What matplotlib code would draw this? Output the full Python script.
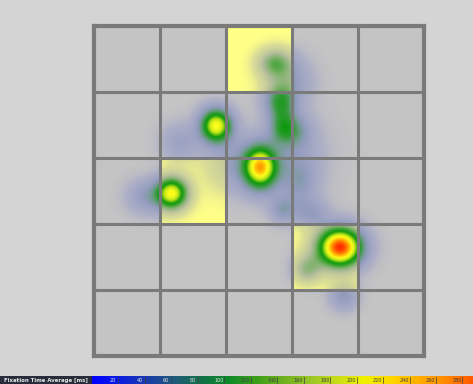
import numpy as np
import matplotlib.pyplot as plt
from matplotlib.colors import LinearSegmentedColormap, ListedColormap

# AOI grid (5x5), cells that are highlighted
n_cells = 5
aoi_rows = [0, 2, 3]
aoi_cols = [2, 1, 3]

# Fixations in grid units (x, y from top-left), average fixation time (ms), spread
fix_x = [3.73, 2.52, 1.85, 1.18, 2.82, 2.74, 2.86, 3.05, 2.86, 3.30, 3.79, 3.12, 0.78, 1.30, 3.23, 2.10, 2.95, 3.00]
fix_y = [3.37, 2.16, 1.52, 2.55, 1.17, 0.57, 1.55, 1.60, 2.80, 2.85, 4.11, 2.39, 2.60, 1.78, 3.70, 2.10, 0.85, 2.00]
fix_ms = [290, 222, 212, 212, 100, 88, 80, 55, 60, 50, 60, 45, 55, 45, 75, 45, 55, 40]
fix_sx = [0.24, 0.18, 0.17, 0.17, 0.16, 0.18, 0.14, 0.18, 0.14, 0.18, 0.15, 0.18, 0.2, 0.2, 0.15, 0.3, 0.25, 0.35]
fix_sy = [0.21, 0.23, 0.18, 0.17, 0.18, 0.15, 0.17, 0.18, 0.14, 0.15, 0.15, 0.25, 0.18, 0.2, 0.15, 0.3, 0.25, 0.4]

# Colour scale legend
scale_max = 288
scale_ticks = [20, 40, 60, 80, 100, 120, 140, 160, 180, 200, 220, 240, 260, 280]
scale_colors = ['#0000ff', '#0a1ee0', '#1a3caa', '#1f5a7a', '#13704a', '#0e8a2a', '#3a9e18',
                '#6cb020', '#98c428', '#c6dc18', '#f2f200', '#ffd800', '#ffb000', '#ff8c00', '#ff5a00']

# Heat values
res = 500
gx = np.linspace(0, n_cells, res)
X, Y = np.meshgrid(gx, gx)
heat = np.zeros_like(X)
for x, y, ms, sx, sy in zip(fix_x, fix_y, fix_ms, fix_sx, fix_sy):
    heat += ms * np.exp(-((X - x) ** 2 / (2 * sx ** 2) + (Y - y) ** 2 / (2 * sy ** 2)))

heat_cmap = LinearSegmentedColormap.from_list('heat', [
    (0.00, (0.35, 0.40, 0.80, 0.0)),
    (0.06, (0.35, 0.40, 0.80, 0.22)),
    (0.20, (0.32, 0.40, 0.72, 0.42)),
    (0.30, (0.22, 0.52, 0.38, 0.62)),
    (0.40, (0.10, 0.58, 0.12, 0.85)),
    (0.50, (0.05, 0.60, 0.05, 1.0)),
    (0.63, (0.75, 0.90, 0.10, 1.0)),
    (0.73, (1.00, 1.00, 0.10, 1.0)),
    (0.86, (1.00, 0.60, 0.00, 1.0)),
    (1.00, (1.00, 0.10, 0.00, 1.0)),
])

fig = plt.figure(figsize=(4.73, 3.84), dpi=100)
fig.patch.set_facecolor('#d4d4d4')

ax = fig.add_axes([94 / 473, (384 - 355.5) / 384, 330 / 473, 330 / 384])
cells = np.zeros((n_cells, n_cells))
for r, c in zip(aoi_rows, aoi_cols):
    cells[r, c] = 1
ax.imshow(cells, cmap=ListedColormap(['#c4c4c4', '#ffff88']), vmin=0, vmax=1,
          extent=(0, n_cells, n_cells, 0), interpolation='nearest', zorder=1)
ax.imshow(heat, cmap=heat_cmap, vmin=0, vmax=max(fix_ms) * 1.02,
          extent=(0, n_cells, n_cells, 0), interpolation='bilinear', zorder=2)
for k in range(1, n_cells):
    ax.axhline(k, color='#7a7a7a', lw=2.2, zorder=3)
    ax.axvline(k, color='#7a7a7a', lw=2.2, zorder=3)
ax.set_xlim(0, n_cells)
ax.set_ylim(n_cells, 0)
ax.set_xticks([])
ax.set_yticks([])
for s in ax.spines.values():
    s.set_color('#7a7a7a')
    s.set_linewidth(3.0)

# legend bar
cax = fig.add_axes([92 / 473, 0, 381 / 473, 8 / 384])
grad = np.linspace(0, scale_max, 400).reshape(1, -1)
cax.imshow(grad, cmap=LinearSegmentedColormap.from_list('scale', scale_colors), aspect='auto',
           extent=(0, scale_max, 0, 1))
for v in scale_ticks:
    cax.plot([v, v], [0.1, 0.9], color='#404040', lw=0.5)
    cax.text(v - 4, 0.5, str(v), fontsize=3.5, ha='center', va='center',
             color='#e0e0e0' if v <= 100 else '#404040')
cax.set_xlim(0, scale_max)
cax.set_ylim(0, 1)
cax.axis('off')

lax = fig.add_axes([0, 0, 92 / 473, 8 / 384])
lax.set_facecolor('#262c3a')
lax.set_xticks([])
lax.set_yticks([])
for s in lax.spines.values():
    s.set_visible(False)
lax.text(0.5, 0.45, 'Fixation Time Average [ms]', fontsize=3.9, fontweight='bold', color='#e8e8e8',
         ha='center', va='center', transform=lax.transAxes)

fig.savefig('out.png', dpi=100, facecolor=fig.get_facecolor())
